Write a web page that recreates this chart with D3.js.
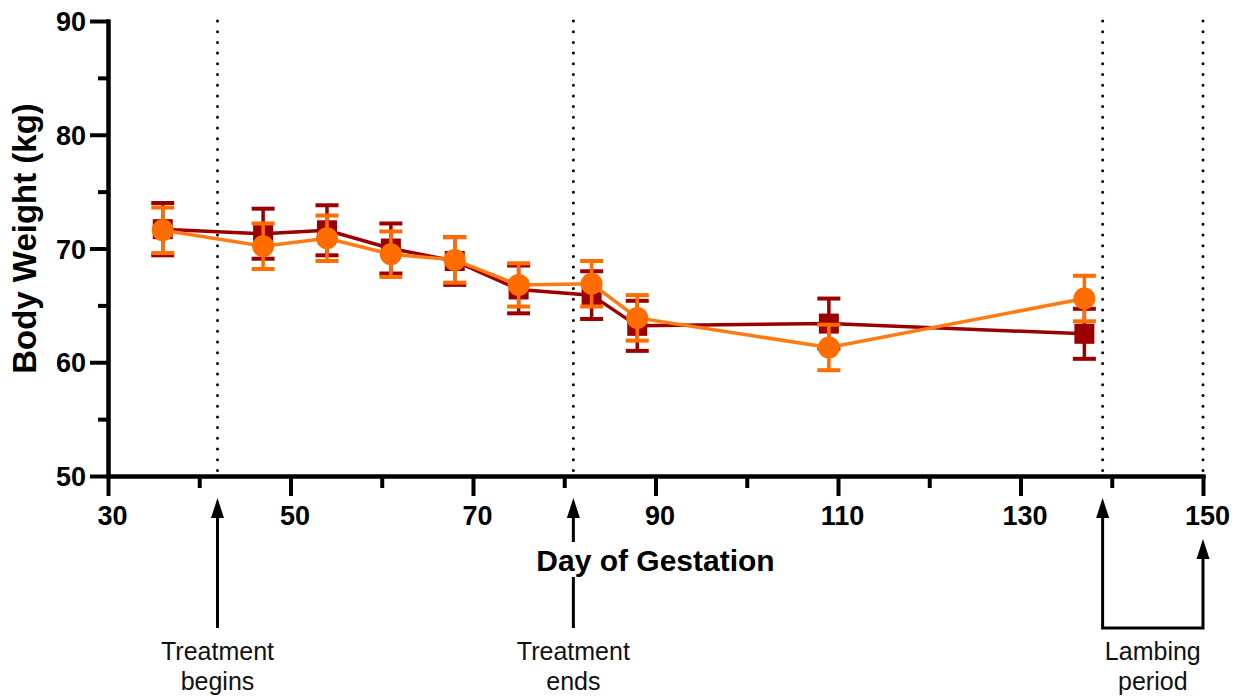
<!DOCTYPE html>
<html>
<head>
<meta charset="utf-8">
<script src="https://cdn.jsdelivr.net/npm/d3@7"></script>
<style>
body { margin: 0; background: #fff; }
text { font-family: "Liberation Sans", Arial, sans-serif; }
</style>
</head>
<body>
<svg id="chart" width="1234" height="696"></svg>
<script>
// body weight over gestation, two groups (mean +/- error)
var days = [36, 47, 54, 61, 68, 75, 83, 88, 109, 137];
var redMean = [71.7, 71.3, 71.6, 70.0, 68.9, 66.4, 65.9, 63.2, 63.4, 62.5];
var redErr = [2.3, 2.2, 2.2, 2.2, 2.1, 2.1, 2.1, 2.2, 2.2, 2.2];
var orangeMean = [71.6, 70.2, 70.9, 69.5, 69.0, 66.8, 66.9, 63.9, 61.3, 65.6];
var orangeErr = [2.0, 2.0, 2.0, 2.0, 2.0, 1.9, 2.0, 2.0, 2.0, 2.0];

var xMajor = [30, 50, 70, 90, 110, 130, 150];
var xMinor = [40, 60, 80, 100, 120, 140];
var yMajor = [50, 60, 70, 80, 90];
var yMinor = [55, 65, 75, 85];

var markerDays = [42, 81, 139, 150];
var treatBegin = 42, treatEnd = 81, lambStart = 139, lambEnd = 150;

var redColor = "#9b0000", orangeColor = "#ff6d00", orangeLine = "#ff7a10";

var svg = d3.select("#chart");
var x = d3.scaleLinear().domain([30, 150]).range([108, 1203]);
var y = d3.scaleLinear().domain([50, 90]).range([476, 21]);

// dotted event lines
svg.selectAll(".evt").data(markerDays).enter().append("line")
    .attr("x1", d => x(d)).attr("x2", d => x(d))
    .attr("y1", y(90)).attr("y2", y(50) - 4)
    .attr("stroke", "#000").attr("stroke-width", 3)
    .attr("stroke-linecap", "round")
    .attr("stroke-dasharray", "0 10.7");

// axes
var yAxis = svg.append("g").attr("transform", "translate(" + x(30) + ",0)")
    .call(d3.axisLeft(y).tickValues(yMajor).tickSize(18).tickSizeOuter(0).tickPadding(4));
svg.append("g").attr("transform", "translate(" + x(30) + ",0)")
    .call(d3.axisLeft(y).tickValues(yMinor).tickSize(10).tickSizeOuter(0).tickFormat(""));
var xAxis = svg.append("g").attr("transform", "translate(0," + y(50) + ")")
    .call(d3.axisBottom(x).tickValues(xMajor).tickSize(20).tickSizeOuter(0).tickPadding(10));
svg.append("g").attr("transform", "translate(0," + y(50) + ")")
    .call(d3.axisBottom(x).tickValues(xMinor).tickSize(12).tickSizeOuter(0).tickFormat(""));

svg.selectAll(".domain").attr("stroke", "#000").attr("stroke-width", 4).attr("stroke-linecap", "square");
svg.selectAll(".tick line").attr("stroke", "#000").attr("stroke-width", 4);
svg.selectAll(".tick text").attr("fill", "#000").style("font-size", "27px").style("font-weight", "bold");
yAxis.selectAll(".tick text").attr("dy", "0.36em");
xAxis.selectAll(".tick text").attr("dx", "0.15em");

// series
function drawSeries(mean, err, color, lineColor, shape) {
    var g = svg.append("g");
    var pts = days.map((d, i) => ({ day: d, m: mean[i], e: err[i] }));
    g.append("path").datum(pts)
        .attr("fill", "none").attr("stroke", lineColor).attr("stroke-width", 3.5)
        .attr("d", d3.line().x(d => x(d.day)).y(d => y(d.m)));
    var eb = g.selectAll(".eb").data(pts).enter().append("g");
    eb.append("line")
        .attr("x1", d => x(d.day)).attr("x2", d => x(d.day))
        .attr("y1", d => y(d.m - d.e)).attr("y2", d => y(d.m + d.e))
        .attr("stroke", color).attr("stroke-width", 3.5);
    [1, -1].forEach(function(s) {
        eb.append("line")
            .attr("x1", d => x(d.day) - 11.5).attr("x2", d => x(d.day) + 11.5)
            .attr("y1", d => y(d.m + s * d.e)).attr("y2", d => y(d.m + s * d.e))
            .attr("stroke", color).attr("stroke-width", 4);
    });
    if (shape == "square") {
        g.selectAll(".pt").data(pts).enter().append("rect")
            .attr("x", d => x(d.day) - 10).attr("y", d => y(d.m) - 10)
            .attr("width", 20).attr("height", 20).attr("fill", color);
    } else {
        g.selectAll(".pt").data(pts).enter().append("circle")
            .attr("cx", d => x(d.day)).attr("cy", d => y(d.m))
            .attr("r", 11).attr("fill", color);
    }
}
drawSeries(redMean, redErr, redColor, redColor, "square");
drawSeries(orangeMean, orangeErr, orangeColor, orangeLine, "circle");

// arrows below the axis
function arrowHead(px, top) {
    svg.append("path")
        .attr("d", "M" + (px - 6.5) + "," + (top + 20) + " L" + px + "," + top + " L" + (px + 6.5) + "," + (top + 20) + " Z")
        .attr("fill", "#000");
}
var arrowTop = 498, arrowBottom = 628, lateTop = 539;
[treatBegin, treatEnd].forEach(function(d) {
    svg.append("path")
        .attr("d", "M" + x(d) + "," + arrowBottom + " L" + x(d) + "," + (arrowTop + 14))
        .attr("stroke", "#000").attr("stroke-width", 3).attr("fill", "none");
    arrowHead(x(d), arrowTop);
});
svg.append("path")
    .attr("d", "M" + x(lambStart) + "," + (arrowTop + 14) + " L" + x(lambStart) + "," + arrowBottom +
        " L" + x(lambEnd) + "," + arrowBottom + " L" + x(lambEnd) + "," + (lateTop + 14))
    .attr("stroke", "#000").attr("stroke-width", 3).attr("fill", "none");
arrowHead(x(lambStart), arrowTop);
arrowHead(x(lambEnd), lateTop);

// axis titles (white box masks the arrow shaft behind it)
var xTitle = svg.append("text").attr("x", x(90)).attr("y", 571)
    .attr("text-anchor", "middle").style("font-size", "30px").style("font-weight", "bold")
    .text("Day of Gestation");
var bb = xTitle.node().getBBox();
svg.append("rect").attr("x", bb.x - 4).attr("y", bb.y - 2)
    .attr("width", bb.width + 8).attr("height", bb.height + 2).attr("fill", "#fff");
xTitle.raise();

svg.append("text").attr("transform", "translate(36," + (y(70) - 10) + ") rotate(-90)")
    .attr("text-anchor", "middle").style("font-size", "33px").style("font-weight", "bold")
    .text("Body Weight (kg)");

// annotation labels
var notes = [
    { day: treatBegin, lines: ["Treatment", "begins"] },
    { day: treatEnd, lines: ["Treatment", "ends"] },
    { day: (lambStart + lambEnd) / 2, lines: ["Lambing", "period"] }
];
notes.forEach(function(n) {
    var t = svg.append("text").attr("text-anchor", "middle").style("font-size", "25px").attr("fill", "#111");
    n.lines.forEach(function(l, i) {
        t.append("tspan").attr("x", x(n.day)).attr("y", 660 + i * 30).text(l);
    });
});
</script>
</body>
</html>
